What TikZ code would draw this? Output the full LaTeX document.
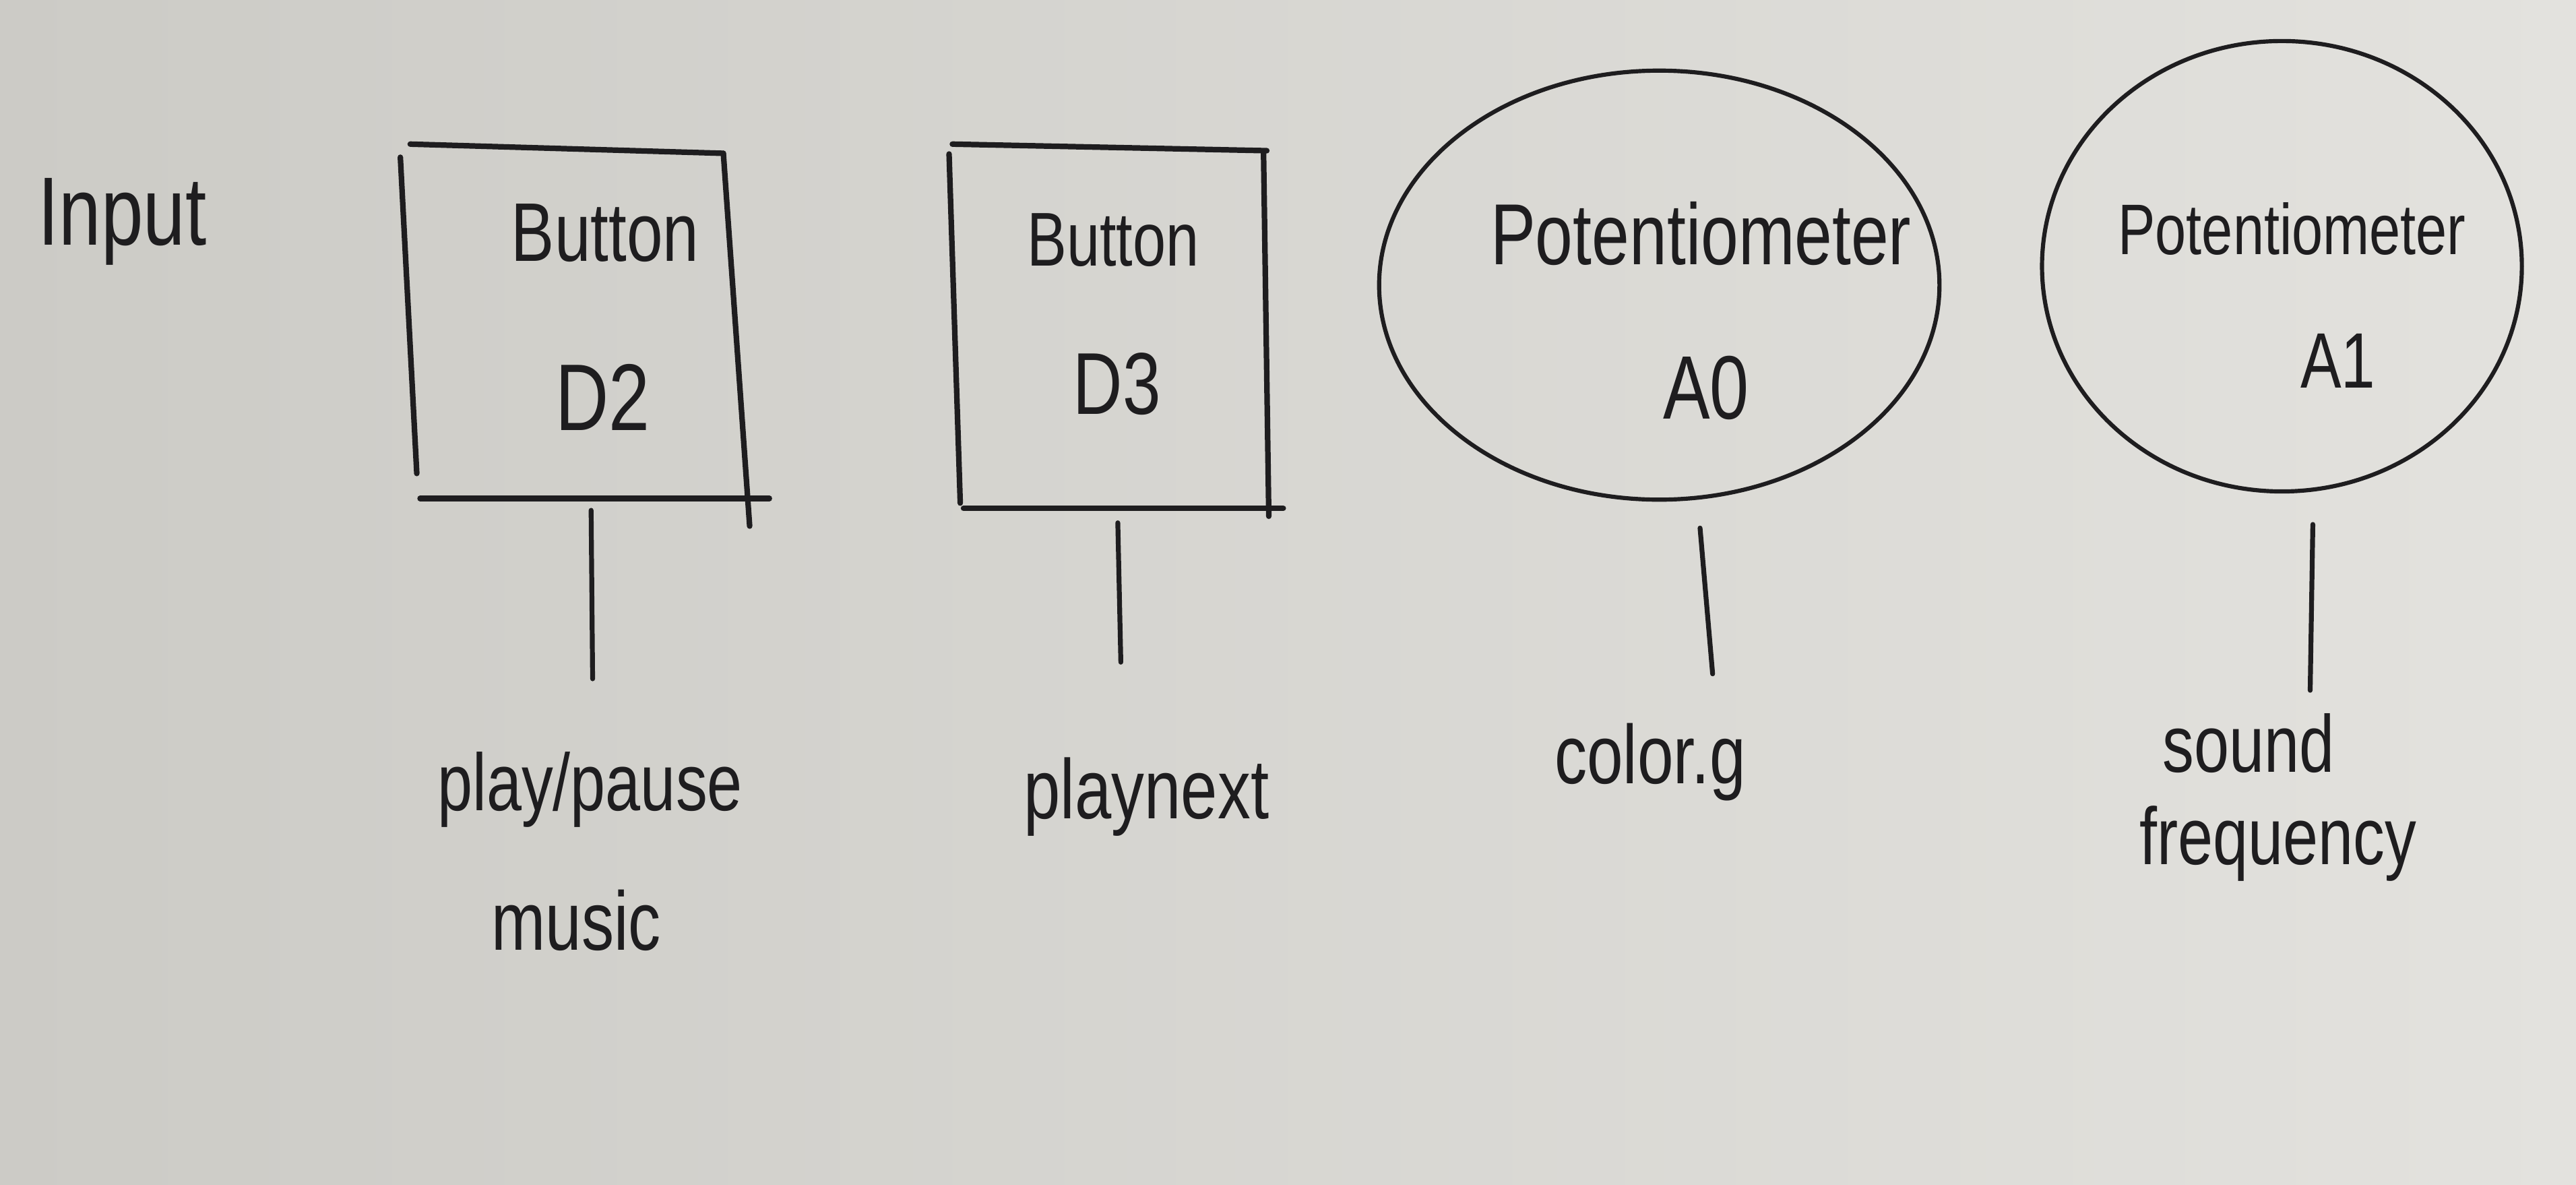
\documentclass[tikz,border=0pt]{standalone}
\usepackage{fontspec}
\setmainfont{Liberation Sans}
% a narrowed sans for the pen lettering
\newfontfamily\penfont[FakeStretch=0.78]{Liberation Sans}
\usetikzlibrary{shapes.geometric}
\definecolor{ink}{RGB}{30,29,31}
\definecolor{paperL}{RGB}{204,203,198}
\definecolor{paperR}{RGB}{227,226,222}
\begin{document}
\begin{tikzpicture}[x=0.025cm, y=-0.025cm,
  boxpen/.style={draw=ink, line width=2.4pt, line cap=round, line join=round},
  potpen/.style={draw=ink, line width=1.8pt},
  wire/.style={draw=ink, line width=2.1pt, line cap=round},
  boxframe/.style={rectangle, draw=none, inner sep=0pt},
  potframe/.style={ellipse, potpen, inner sep=0pt},
  hand/.style={text=ink, inner sep=0pt, anchor=base west},
  pen/.style={hand, font=\penfont\fontsize{#1}{#1}\selectfont},
]
% sheet of paper
\shade[left color=paperL, right color=paperR] (0,0) rectangle (1568,721);
\useasboundingbox (0,0) rectangle (1568,721);

% heading
\node[pen=42] (inp) at (23,149) {Input};

% button D2
\node[boxframe, minimum width=5.15cm, minimum height=5.375cm] (b1) at (353,195.5) {};
\draw[boxpen] (b1.north west) -- ([xshift=-0.4cm,yshift=-0.14cm]b1.north east);
\draw[boxpen] ([xshift=-0.4cm,yshift=-0.14cm]b1.north east) -- ([yshift=-0.42cm]b1.south east);
\draw[boxpen] ([xshift=-0.15cm,yshift=-0.2cm]b1.north west) -- ([xshift=0.1cm,yshift=0.38cm]b1.south west);
\draw[boxpen] ([xshift=0.15cm]b1.south west) -- ([xshift=0.3cm]b1.south east);
\node[pen=36] (b1name) at (311,159) {Button};
\node[pen=41] (b1pin) at (338,262) {D2};

% button D3
\node[boxframe, minimum width=4.8cm, minimum height=5.525cm] (b2) at (676,198.5) {};
\draw[boxpen] (b2.north west) -- ([xshift=-0.03cm,yshift=-0.1cm]b2.north east);
\draw[boxpen] ([xshift=-0.08cm,yshift=-0.12cm]b2.north east) -- ([yshift=-0.12cm]b2.south east);
\draw[boxpen] ([xshift=-0.05cm,yshift=-0.15cm]b2.north west) -- ([xshift=0.12cm,yshift=0.08cm]b2.south west);
\draw[boxpen] ([xshift=0.17cm]b2.south west) -- ([xshift=0.22cm]b2.south east);
\node[pen=33] (b2name) at (625,162) {Button};
\node[pen=38] (b2pin) at (653,252) {D3};

% potentiometer A0
\node[potframe, minimum width=8.525cm, minimum height=6.525cm] (e1) at (1010,173.5) {};
\node[pen=37.5] (e1name) at (907,161) {Potentiometer};
\node[pen=39] (e1pin) at (1012,255) {A0};

% potentiometer A1
\node[potframe, minimum width=7.3cm, minimum height=6.85cm] (e2) at (1389,162) {};
\node[pen=31] (e2name) at (1289,155) {Potentiometer};
\node[pen=34] (e2pin) at (1400,236) {A1};

% what each input does
\node[pen=35] (t1) at (266,493) {play/pause};
\node[pen=36] (t1b) at (299,578) {music};
\node[pen=36.5] (t2) at (623,498) {playnext};
\node[pen=36] (t3) at (946,477) {color.g};
\node[pen=35] (t4) at (1316,470) {sound};
\node[pen=35] (t4b) at (1302,526) {frequency};

% connectors
\draw[wire] ([xshift=0.17cm,yshift=-0.18cm]b1.south) -- ([xshift=0.04cm,yshift=1.1cm]t1.north);
\draw[wire] ([xshift=0.11cm,yshift=-0.22cm]b2.south) -- ([xshift=-0.39cm,yshift=1.44cm]t2.north);
\draw[wire] ([xshift=0.62cm,yshift=-0.4cm]e1.south) -- ([xshift=0.95cm,yshift=0.75cm]t3.north);
\draw[wire] ([xshift=0.47cm,yshift=-0.47cm]e2.south) -- ([xshift=0.94cm,yshift=0.35cm]t4.north);
\end{tikzpicture}
\end{document}
